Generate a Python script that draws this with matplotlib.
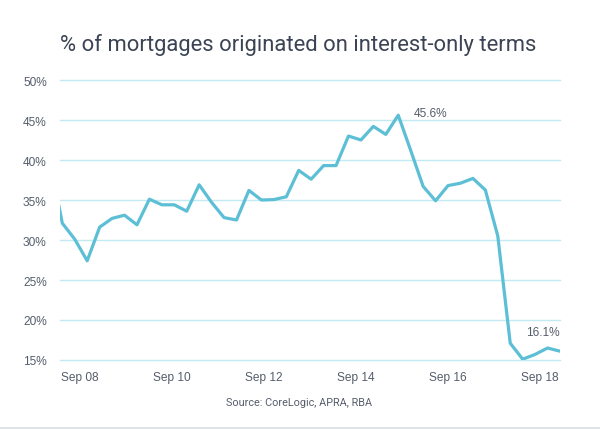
import matplotlib
matplotlib.use("Agg")
import matplotlib.pyplot as plt
import numpy as np

# Data: % of mortgages originated on interest-only terms (one point per period)
values = [40.0, 32.1, 30.1, 27.4, 31.6, 32.7, 33.1, 31.9, 35.1, 34.4,
          34.4, 33.6, 36.9, 34.7, 32.8, 32.5, 36.2, 35.0, 35.05, 35.4,
          38.7, 37.6, 39.3, 39.3, 43.0, 42.5, 44.2, 43.2, 45.6, 41.2,
          36.7, 34.9, 36.8, 37.1, 37.7, 36.25, 30.5, 17.1, 15.1, 15.7,
          16.5, 16.1]
tick_labels = ["Sep 08", "Sep 10", "Sep 12", "Sep 14", "Sep 16", "Sep 18"]
tick_pos = [2.37, 9.82, 17.19, 24.59, 32.0, 39.34]
y_ticks = [15, 20, 25, 30, 35, 40, 45, 50]
peak_label = "45.6%"
last_label = "16.1%"

line_color = "#5cbfd5"
grid_color = "#c2eaf3"
text_dark = "#3b4454"
text_mid = "#555d6b"

fig = plt.figure(figsize=(6.0, 4.31), dpi=100)
ax = fig.add_axes([60/600, 70/431, 500/600, 280/431])

x = np.arange(len(values))
ax.plot(x, values, color=line_color, lw=2.3, solid_joinstyle="round",
        solid_capstyle="round", zorder=3)

ax.set_xlim(0.815, 41)
ax.set_ylim(15, 50)
ax.set_yticks(y_ticks)
ax.set_yticklabels([f"{v}%" for v in y_ticks])
ax.set_xticks(tick_pos)
ax.set_xticklabels(tick_labels)

for v in y_ticks:
    ax.axhline(v, color=grid_color, lw=1.0, zorder=1, clip_on=False)

for s in ax.spines.values():
    s.set_visible(False)
ax.tick_params(axis="both", length=0, labelsize=8.6, labelcolor=text_mid)
ax.tick_params(axis="y", pad=9.5)
ax.tick_params(axis="x", pad=8)
for lab in ax.get_xticklabels() + ax.get_yticklabels():
    lab.set_fontfamily("Liberation Sans")

# annotations
ipk = int(np.argmax(values))
ax.annotate(peak_label, xy=(x[ipk], values[ipk]), xytext=(16, 2.5),
            textcoords="offset pixels", ha="left", va="center",
            fontsize=8.6, color=text_mid, family="Liberation Sans")
ax.annotate(last_label, xy=(x[-1], values[-1]), xytext=(0, 19),
            textcoords="offset pixels", ha="right", va="center",
            fontsize=8.6, color=text_mid, family="Liberation Sans")

fig.text(0.497, 1 - 45/431, "% of mortgages originated on interest-only terms",
         ha="center", va="center", fontsize=15.8, color=text_dark,
         family="Roboto")
fig.text(0.499, 1 - 403/431, "Source: CoreLogic, APRA, RBA",
         ha="center", va="center", fontsize=7.8, color=text_mid,
         family="Roboto")

fig.add_artist(plt.Line2D([0, 1], [1 - 429/431, 1 - 429/431],
                          transform=fig.transFigure, color="#d9dee4", lw=1.2))

fig.savefig("out.png", dpi=100, facecolor="white")
